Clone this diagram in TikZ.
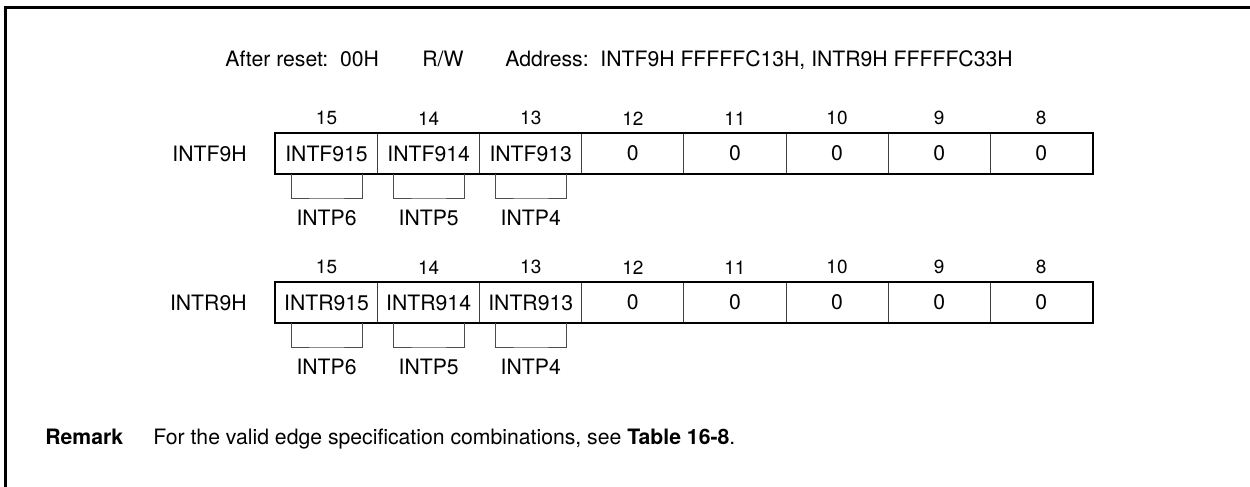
\documentclass[tikz,border=0pt]{standalone}
\usepackage{fontspec}
\setmainfont{TeX Gyre Heros}
\usetikzlibrary{positioning}

\begin{document}
\begin{tikzpicture}[
    x=0.5pt, y=-0.5pt,
    font=\fontsize{10.6}{12.7}\selectfont,
    bitcell/.style={
        draw=black!75,
        line width=0.5pt,
        minimum width=51.05pt,
        minimum height=20pt,
        inner sep=0pt,
        anchor=north west
    },
    bitnum/.style={
        font=\fontsize{9.5}{11}\selectfont,
        inner sep=0pt
    },
    regname/.style={inner sep=0pt},
    brk/.style={draw=black!70, line width=0.5pt},
    intlabel/.style={inner sep=0pt}
]

% ---------------------------------
% Frame and size
% ---------------------------------
\useasboundingbox (0,0) rectangle (1250,487);
\draw[line width=1.5pt] (1250,7.5) -- (5.5,7.5) -- (5.5,487);

% ---------------------------------
% Header line
% ---------------------------------
\node[anchor=base west, inner sep=0pt] (reset) at (225,66) {After reset:\ \ 00H};
\node[anchor=base west, inner sep=0pt] (rw) at (422,66) {R/W};
\node[anchor=base west, inner sep=0pt] (addr) at (505,66)
    {Address:\ \ INTF9H FFFFFC13H, INTR9H FFFFFC33H};

% ---------------------------------
% INTF9H
% ---------------------------------
\foreach \b/\t [count=\i from 0] in
    {15/INTF915,14/INTF914,13/INTF913,12/0,11/0,10/0,9/0,8/0} {
    \node[bitcell] (f\b) at ({275+\i*102.1},133) {\t};
    \node[bitnum, above=3.7pt of f\b.north] (fn\b) {\b};
}
\draw[line width=1pt] (f15.north west) rectangle (f8.south east);
\node[regname, left=14pt of f15] (fname) {INTF9H};

\foreach \b/\p in {15/INTP6,14/INTP5,13/INTP4} {
    \coordinate (fb\b) at ([yshift=-12pt]f\b.south);
    \draw[brk] ([xshift=-17.75pt]f\b.south) |- (fb\b) -| ([xshift=17.75pt]f\b.south);
    \node[intlabel, below=5.7pt of fb\b] (fp\b) {\p};
}

% ---------------------------------
% INTR9H
% ---------------------------------
\foreach \b/\t [count=\i from 0] in
    {15/INTR915,14/INTR914,13/INTR913,12/0,11/0,10/0,9/0,8/0} {
    \node[bitcell] (r\b) at ({275+\i*102.1},282) {\t};
    \node[bitnum, above=3.7pt of r\b.north] (rn\b) {\b};
}
\draw[line width=1pt] (r15.north west) rectangle (r8.south east);
\node[regname, left=14pt of r15] (rname) {INTR9H};

\foreach \b/\p in {15/INTP6,14/INTP5,13/INTP4} {
    \coordinate (rb\b) at ([yshift=-12pt]r\b.south);
    \draw[brk] ([xshift=-17.75pt]r\b.south) |- (rb\b) -| ([xshift=17.75pt]r\b.south);
    \node[intlabel, below=5.7pt of rb\b] (rp\b) {\p};
}

% ---------------------------------
% Remark
% ---------------------------------
\node[anchor=base west, inner sep=0pt] (remark) at (45,444) {\textbf{Remark}};
\node[anchor=base west, inner sep=0pt] (remtext) at (153,444)
    {For the valid edge specification combinations, see \textbf{Table 16-8}.};

\end{tikzpicture}
\end{document}
